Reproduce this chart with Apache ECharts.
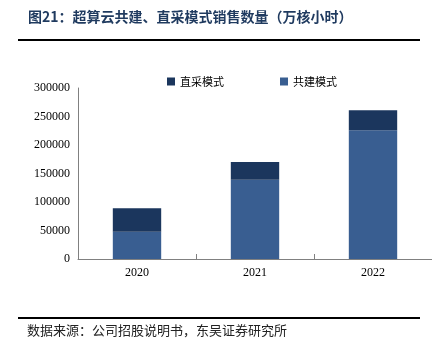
<!DOCTYPE html>
<html>
<head>
<meta charset="utf-8">
<script src="https://cdn.jsdelivr.net/npm/echarts@6/dist/echarts.min.js"></script>
<style>
html,body{margin:0;padding:0;background:#fff;}
#main{width:432px;height:351px;}
</style>
</head>
<body>
<div id="main"></div>
<script>
// 数据
let years = ['2020', '2021', '2022'];
let gongjian = [48000, 139000, 226000];   // 共建模式
let zhicai = [41000, 31000, 35000];        // 直采模式
let yTicks = [0, 300000, 50000];           // min, max, interval

let myChart = echarts.init(document.getElementById('main'));
let option = {
    backgroundColor: '#fff',
    animation: false,
    legend: {
        top: 71,
        left: 162,
        itemGap: 56,
        itemWidth: 8,
        itemHeight: 8,
        icon: 'rect',
        textStyle: {fontFamily: 'Noto Sans CJK SC', fontSize: 11, color: '#000'},
        data: ['直采模式', '共建模式']
    },
    grid: {left: 78, right: 0, top: 88, bottom: 92, containLabel: false},
    xAxis: {
        type: 'category',
        data: years,
        axisLine: {lineStyle: {color: '#808080', width: 1}},
        axisTick: {show: true, length: -5, lineStyle: {color: '#808080'}},
        axisLabel: {fontFamily: 'Liberation Serif', fontSize: 12, color: '#000', margin: 8}
    },
    yAxis: {
        type: 'value',
        min: yTicks[0],
        max: yTicks[1],
        interval: yTicks[2],
        splitLine: {show: false},
        axisLine: {show: true, lineStyle: {color: '#808080'}},
        axisTick: {show: false},
        axisLabel: {fontFamily: 'Liberation Serif', fontSize: 12, color: '#000', margin: 8,
            formatter: function (v) { return String(v); }}
    },
    series: [
        {
            name: '共建模式',
            type: 'bar',
            stack: 'a',
            data: gongjian,
            barWidth: '41%',
            itemStyle: {color: '#395e91'}
        },
        {
            name: '直采模式',
            type: 'bar',
            stack: 'a',
            data: zhicai,
            itemStyle: {color: '#1b365d'}
        }
    ],
    graphic: [
        {
            type: 'text', left: 28, top: 10,
            style: {text: '图21：超算云共建、直采模式销售数量（万核小时）', fill: '#1f3a5f',
                font: 'bold 14px "Noto Sans CJK SC"'}
        },
        {
            type: 'line', shape: {x1: 18, y1: 40, x2: 420, y2: 40},
            style: {stroke: '#000', lineWidth: 2}
        },
        {
            type: 'line', shape: {x1: 18, y1: 318, x2: 420, y2: 318},
            style: {stroke: '#000', lineWidth: 2}
        },
        {
            type: 'text', left: 27, top: 324,
            style: {text: '数据来源：公司招股说明书，东吴证券研究所', fill: '#222',
                font: '13px "Noto Sans CJK SC"'}
        }
    ]
};
myChart.setOption(option);
</script>
</body>
</html>
